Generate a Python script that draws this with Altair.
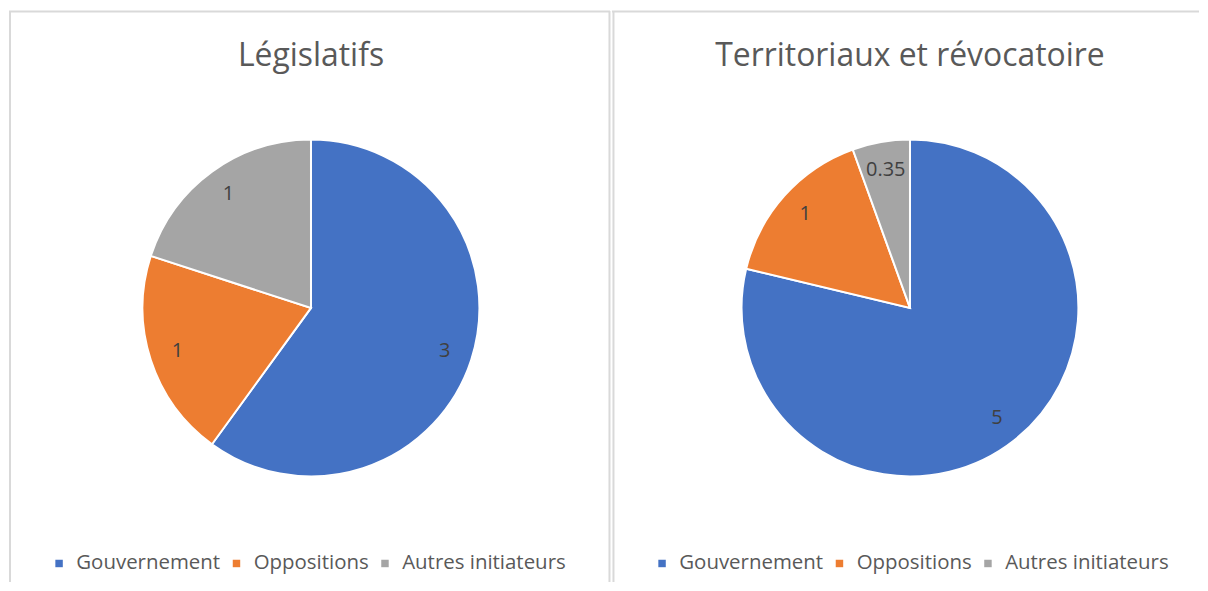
import altair as alt
import pandas as pd

categories = ["Gouvernement", "Oppositions", "Autres initiateurs"]
colors = ["#4472C4", "#ED7D31", "#A5A5A5"]
titles = ["Législatifs", "Territoriaux et révocatoire"]
values_legislatifs = [3, 1, 1]
values_territoriaux = [5, 1, 0.35]

FONT = "Open Sans"
BORDER = "#D9D9D9"
H = 575


def panel(title, values, width, cx, left_border, right_border):
    df = pd.DataFrame({
        "cat": categories,
        "value": values,
        "order": list(range(len(categories))),
        "label": [f"{v:g}" for v in values],
    })
    base = alt.Chart(df)
    arcs = base.mark_arc(outerRadius=169, stroke="white", strokeWidth=2).encode(
        theta=alt.Theta("value:Q", stack=True),
        order=alt.Order("order:Q"),
        color=alt.Color(
            "cat:N",
            sort=categories,
            scale=alt.Scale(domain=categories, range=colors),
            legend=alt.Legend(
                title=None, orient="none", direction="horizontal",
                legendX=40, legendY=546, padding=0,
                symbolType="square", symbolSize=56, symbolStrokeWidth=0,
                labelFont=FONT, labelFontSize=20.5, labelColor="#595959",
                labelOffset=7, columnPadding=6, labelLimit=0,
            ),
        ),
        x=alt.value(cx),
        y=alt.value(300),
    )
    labels = base.mark_text(radius=141, font=FONT, fontSize=20, color="#404040").encode(
        theta=alt.Theta("value:Q", stack=True),
        order=alt.Order("order:Q"),
        text="label:N",
        x=alt.value(cx),
        y=alt.value(300),
    )
    tdf = pd.DataFrame({"t": [title]})
    title_mark = alt.Chart(tdf).mark_text(
        font=FONT, fontSize=32, color="#595959", baseline="alphabetic"
    ).encode(text="t:N", x=alt.value(cx), y=alt.value(57))

    rules = []
    rules.append(alt.Chart(tdf).mark_rule(color=BORDER, strokeWidth=2).encode(
        x=alt.value(0), x2=alt.value(width), y=alt.value(2.5)))
    if left_border is not None:
        rules.append(alt.Chart(tdf).mark_rule(color=BORDER, strokeWidth=2).encode(
            x=alt.value(left_border), y=alt.value(2), y2=alt.value(H)))
    if right_border is not None:
        rules.append(alt.Chart(tdf).mark_rule(color=BORDER, strokeWidth=2).encode(
            x=alt.value(right_border), y=alt.value(2), y2=alt.value(H)))

    return alt.layer(*rules, arcs, labels, title_mark).properties(width=width, height=H)


left = panel(titles[0], values_legislatifs, 603, 303, 1, 602.5)
right = panel(titles[1], values_territoriaux, 589, 299, 1.5, None)

chart = alt.hconcat(left, right, spacing=0).resolve_scale(
    color="independent"
).resolve_legend(color="independent").properties(
    padding=0, background="white"
).configure_view(stroke=None)

chart.save("out.html", embed_options={"renderer": "svg", "actions": False})
